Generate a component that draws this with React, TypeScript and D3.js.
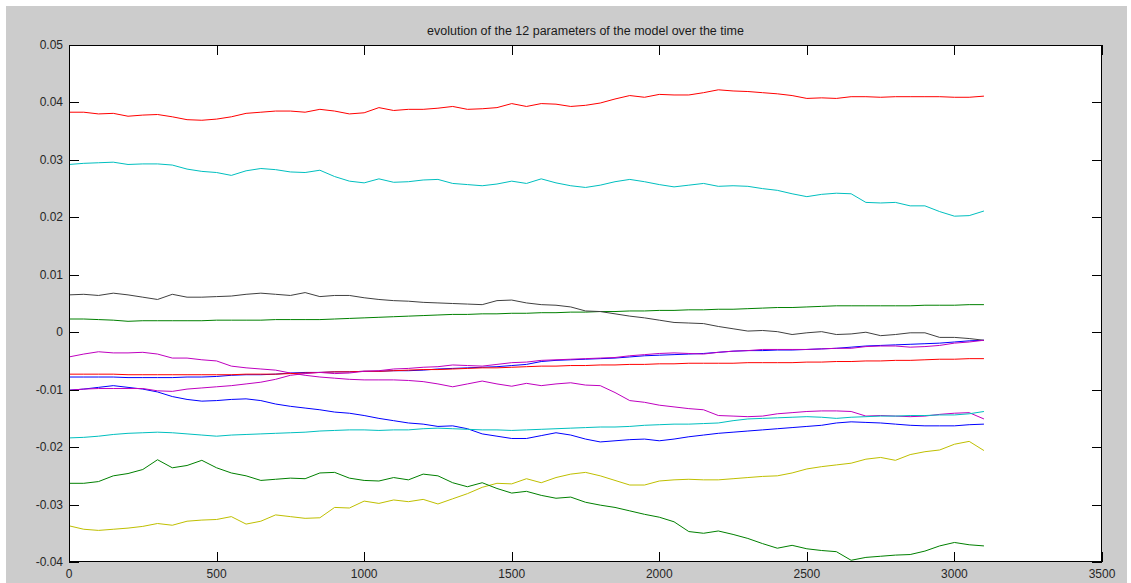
import React from "react";
import * as d3 from "d3";

// Sample times (iterations) at which each parameter was recorded: every 50 steps
const times = d3.range(0, 3101, 50);

// Parameter trajectories, in MATLAB color-order sequence
const p1Blue = [-0.0078, -0.0078, -0.0078, -0.0078, -0.0079, -0.0079, -0.0079, -0.0079, -0.0078, -0.0078, -0.0077, -0.0075, -0.0074, -0.0074, -0.0073, -0.0071,
  -0.0070, -0.0070, -0.0069, -0.0069, -0.0068, -0.0068, -0.0067, -0.0067, -0.0066, -0.0064, -0.0063, -0.0062, -0.0061, -0.0060, -0.0058, -0.0056,
  -0.0051, -0.0049, -0.0048, -0.0047, -0.0046, -0.0045, -0.0043, -0.0041, -0.0040, -0.0039, -0.0038, -0.0037, -0.0035, -0.0033, -0.0032, -0.0032,
  -0.0031, -0.0031, -0.0030, -0.0029, -0.0028, -0.0026, -0.0024, -0.0023, -0.0022, -0.0021, -0.0020, -0.0019, -0.0017, -0.0015, -0.0014];
const p2Green = [0.0023, 0.0023, 0.0022, 0.0021, 0.0019, 0.0020, 0.0020, 0.0020, 0.0020, 0.0020, 0.0021, 0.0021, 0.0021, 0.0021, 0.0022, 0.0022,
  0.0022, 0.0022, 0.0023, 0.0024, 0.0025, 0.0026, 0.0027, 0.0028, 0.0029, 0.0030, 0.0031, 0.0031, 0.0032, 0.0032, 0.0033, 0.0033,
  0.0034, 0.0034, 0.0035, 0.0035, 0.0036, 0.0036, 0.0037, 0.0037, 0.0038, 0.0038, 0.0039, 0.0039, 0.0040, 0.0040, 0.0041, 0.0042,
  0.0043, 0.0043, 0.0044, 0.0045, 0.0046, 0.0046, 0.0046, 0.0046, 0.0046, 0.0046, 0.0047, 0.0047, 0.0047, 0.0048, 0.0048];
const p3Red = [0.0383, 0.0383, 0.0380, 0.0381, 0.0376, 0.0378, 0.0379, 0.0375, 0.0370, 0.0369, 0.0371, 0.0375, 0.0381, 0.0383, 0.0385, 0.0385,
  0.0383, 0.0388, 0.0385, 0.0380, 0.0382, 0.0391, 0.0386, 0.0388, 0.0388, 0.0390, 0.0393, 0.0388, 0.0389, 0.0391, 0.0398, 0.0393,
  0.0398, 0.0397, 0.0393, 0.0395, 0.0399, 0.0406, 0.0412, 0.0409, 0.0414, 0.0413, 0.0413, 0.0417, 0.0422, 0.0420, 0.0419, 0.0417,
  0.0415, 0.0412, 0.0407, 0.0408, 0.0407, 0.0410, 0.0410, 0.0409, 0.0410, 0.0410, 0.0410, 0.0410, 0.0409, 0.0409, 0.0411];
const p4Cyan = [0.0292, 0.0294, 0.0295, 0.0296, 0.0292, 0.0293, 0.0293, 0.0291, 0.0284, 0.0280, 0.0278, 0.0273, 0.0281, 0.0285, 0.0283, 0.0279,
  0.0278, 0.0282, 0.0271, 0.0263, 0.0260, 0.0267, 0.0261, 0.0262, 0.0265, 0.0266, 0.0259, 0.0257, 0.0255, 0.0258, 0.0263, 0.0259,
  0.0267, 0.0260, 0.0255, 0.0252, 0.0256, 0.0262, 0.0266, 0.0262, 0.0257, 0.0253, 0.0256, 0.0259, 0.0254, 0.0255, 0.0254, 0.0250,
  0.0247, 0.0241, 0.0236, 0.0240, 0.0242, 0.0241, 0.0226, 0.0225, 0.0226, 0.0220, 0.0220, 0.0210, 0.0202, 0.0203, 0.0211];
const p5Magenta = [-0.0043, -0.0038, -0.0034, -0.0036, -0.0036, -0.0035, -0.0038, -0.0045, -0.0045, -0.0048, -0.0050, -0.0059, -0.0062, -0.0064, -0.0066, -0.0071,
  -0.0075, -0.0078, -0.0080, -0.0082, -0.0083, -0.0083, -0.0083, -0.0084, -0.0086, -0.0090, -0.0095, -0.0090, -0.0085, -0.0090, -0.0094, -0.0089,
  -0.0093, -0.0090, -0.0088, -0.0092, -0.0093, -0.0105, -0.0119, -0.0122, -0.0127, -0.0130, -0.0133, -0.0135, -0.0145, -0.0146, -0.0147, -0.0146,
  -0.0142, -0.0140, -0.0138, -0.0137, -0.0137, -0.0138, -0.0146, -0.0145, -0.0146, -0.0147, -0.0146, -0.0143, -0.0141, -0.0140, -0.0151];
const p6Yellow = [-0.0337, -0.0343, -0.0345, -0.0343, -0.0341, -0.0338, -0.0333, -0.0336, -0.0329, -0.0327, -0.0326, -0.0321, -0.0334, -0.0329, -0.0318, -0.0321,
  -0.0324, -0.0323, -0.0305, -0.0306, -0.0294, -0.0298, -0.0292, -0.0295, -0.0291, -0.0299, -0.0290, -0.0281, -0.0270, -0.0263, -0.0264, -0.0255,
  -0.0262, -0.0253, -0.0247, -0.0244, -0.0250, -0.0258, -0.0266, -0.0266, -0.0259, -0.0257, -0.0256, -0.0257, -0.0257, -0.0255, -0.0253, -0.0251,
  -0.0250, -0.0245, -0.0238, -0.0234, -0.0231, -0.0228, -0.0221, -0.0218, -0.0223, -0.0213, -0.0208, -0.0205, -0.0195, -0.0190, -0.0206];
const p7Gray = [0.0065, 0.0066, 0.0064, 0.0068, 0.0065, 0.0061, 0.0057, 0.0066, 0.0061, 0.0061, 0.0062, 0.0063, 0.0066, 0.0068, 0.0066, 0.0064,
  0.0069, 0.0062, 0.0064, 0.0064, 0.0060, 0.0057, 0.0055, 0.0054, 0.0052, 0.0051, 0.0050, 0.0049, 0.0048, 0.0055, 0.0056, 0.0051,
  0.0048, 0.0047, 0.0044, 0.0037, 0.0036, 0.0032, 0.0028, 0.0025, 0.0021, 0.0017, 0.0016, 0.0015, 0.0010, 0.0006, 0.0002, 0.0003,
  0.0001, -0.0004, -0.0001, 0.0001, -0.0004, -0.0003, 0.0000, -0.0006, -0.0004, -0.0001, -0.0001, -0.0009, -0.0009, -0.0011, -0.0014];
const p8Blue = [-0.0101, -0.0099, -0.0096, -0.0093, -0.0096, -0.0099, -0.0104, -0.0112, -0.0117, -0.0120, -0.0119, -0.0117, -0.0116, -0.0119, -0.0125, -0.0129,
  -0.0132, -0.0135, -0.0139, -0.0141, -0.0145, -0.0150, -0.0154, -0.0158, -0.0160, -0.0164, -0.0163, -0.0168, -0.0177, -0.0181, -0.0185, -0.0185,
  -0.0180, -0.0175, -0.0179, -0.0186, -0.0191, -0.0189, -0.0187, -0.0186, -0.0189, -0.0186, -0.0182, -0.0179, -0.0176, -0.0174, -0.0172, -0.0170,
  -0.0168, -0.0166, -0.0164, -0.0162, -0.0158, -0.0156, -0.0157, -0.0158, -0.0160, -0.0162, -0.0163, -0.0163, -0.0163, -0.0161, -0.0160];
const p9Green = [-0.0263, -0.0263, -0.0260, -0.0250, -0.0246, -0.0239, -0.0222, -0.0236, -0.0232, -0.0223, -0.0236, -0.0245, -0.0250, -0.0258, -0.0256, -0.0254,
  -0.0255, -0.0245, -0.0244, -0.0254, -0.0258, -0.0259, -0.0253, -0.0257, -0.0247, -0.0250, -0.0262, -0.0269, -0.0262, -0.0272, -0.0280, -0.0277,
  -0.0284, -0.0289, -0.0287, -0.0296, -0.0301, -0.0305, -0.0311, -0.0317, -0.0322, -0.0330, -0.0347, -0.0350, -0.0346, -0.0352, -0.0359, -0.0368,
  -0.0376, -0.0371, -0.0377, -0.0380, -0.0382, -0.0397, -0.0392, -0.0390, -0.0388, -0.0387, -0.0381, -0.0372, -0.0366, -0.0370, -0.0372];
const p10Red = [-0.0073, -0.0073, -0.0073, -0.0073, -0.0074, -0.0074, -0.0074, -0.0074, -0.0074, -0.0074, -0.0074, -0.0074, -0.0073, -0.0073, -0.0073, -0.0072,
  -0.0071, -0.0070, -0.0069, -0.0069, -0.0068, -0.0068, -0.0067, -0.0066, -0.0065, -0.0065, -0.0064, -0.0063, -0.0062, -0.0062, -0.0061, -0.0060,
  -0.0059, -0.0059, -0.0058, -0.0058, -0.0057, -0.0057, -0.0056, -0.0056, -0.0055, -0.0055, -0.0054, -0.0054, -0.0054, -0.0054, -0.0053, -0.0053,
  -0.0053, -0.0053, -0.0052, -0.0052, -0.0051, -0.0051, -0.0050, -0.0050, -0.0049, -0.0049, -0.0048, -0.0047, -0.0047, -0.0046, -0.0046];
const p11Cyan = [-0.0184, -0.0183, -0.0181, -0.0178, -0.0176, -0.0175, -0.0174, -0.0175, -0.0177, -0.0179, -0.0181, -0.0179, -0.0178, -0.0177, -0.0176, -0.0175,
  -0.0174, -0.0172, -0.0171, -0.0170, -0.0170, -0.0171, -0.0170, -0.0170, -0.0168, -0.0167, -0.0168, -0.0169, -0.0170, -0.0170, -0.0171, -0.0170,
  -0.0169, -0.0168, -0.0167, -0.0166, -0.0165, -0.0165, -0.0164, -0.0162, -0.0161, -0.0160, -0.0160, -0.0159, -0.0158, -0.0154, -0.0151, -0.0150,
  -0.0149, -0.0148, -0.0147, -0.0148, -0.0150, -0.0148, -0.0147, -0.0146, -0.0146, -0.0145, -0.0145, -0.0144, -0.0144, -0.0142, -0.0138];
const p12Magenta = [-0.0101, -0.0099, -0.0098, -0.0098, -0.0098, -0.0098, -0.0102, -0.0103, -0.0099, -0.0097, -0.0095, -0.0093, -0.0090, -0.0087, -0.0082, -0.0075,
  -0.0072, -0.0070, -0.0072, -0.0071, -0.0068, -0.0067, -0.0064, -0.0063, -0.0061, -0.0060, -0.0057, -0.0058, -0.0059, -0.0056, -0.0053, -0.0052,
  -0.0049, -0.0048, -0.0047, -0.0046, -0.0045, -0.0044, -0.0041, -0.0039, -0.0037, -0.0036, -0.0037, -0.0038, -0.0035, -0.0033, -0.0032, -0.0030,
  -0.0030, -0.0030, -0.0030, -0.0029, -0.0028, -0.0028, -0.0025, -0.0024, -0.0024, -0.0026, -0.0025, -0.0023, -0.0019, -0.0017, -0.0014];

const seriesList = [p1Blue, p2Green, p3Red, p4Cyan, p5Magenta, p6Yellow, p7Gray, p8Blue, p9Green, p10Red, p11Cyan, p12Magenta];
const colorOrder = ["#0000ff", "#008000", "#ff0000", "#00bfbf", "#bf00bf", "#bfbf00", "#404040"];

const xTicks = [0, 500, 1000, 1500, 2000, 2500, 3000, 3500];
const yTicks = [-0.04, -0.03, -0.02, -0.01, 0, 0.01, 0.02, 0.03, 0.04, 0.05];
const yTickLabels = ["-0.04", "-0.03", "-0.02", "-0.01", "0", "0.01", "0.02", "0.03", "0.04", "0.05"];

const title = "evolution of the 12 parameters of the model over the time";

const W = 1131;
const H = 583;
const plot = { left: 69, top: 45, right: 1102, bottom: 562 };

export default function App() {
  const x = d3.scaleLinear().domain([0, 3500]).range([plot.left, plot.right]);
  const y = d3.scaleLinear().domain([-0.04, 0.05]).range([plot.bottom, plot.top]);
  const line = d3
    .line<number>()
    .x((_, i) => x(times[i]))
    .y((d) => y(d))
    .curve(d3.curveLinear);

  const font = "'Liberation Sans', Arial, Helvetica, sans-serif";
  const tickLen = 10;

  return (
    <svg
      width={W}
      height={H}
      style={{ position: "absolute", left: 0, top: 0, background: "#ffffff" }}
    >
      <defs>
        <clipPath id="plotClip">
          <rect
            x={plot.left}
            y={plot.top}
            width={plot.right - plot.left}
            height={plot.bottom - plot.top}
          />
        </clipPath>
      </defs>
      <rect x={6} y={6} width={1121} height={H - 6} fill="#cccccc" />
      <rect
        x={plot.left}
        y={plot.top}
        width={plot.right - plot.left}
        height={plot.bottom - plot.top}
        fill="#ffffff"
      />
      <text
        x={(plot.left + plot.right) / 2}
        y={35}
        textAnchor="middle"
        fontFamily={font}
        fontSize={12.5}
        fill="#1a1a1a"
      >
        {title}
      </text>

      <g clipPath="url(#plotClip)">
        {seriesList.map((s, i) => (
          <path
            key={i}
            d={line(s.slice(0, times.length)) || ""}
            fill="none"
            stroke={colorOrder[i % colorOrder.length]}
            strokeWidth={1}
            strokeLinejoin="round"
          />
        ))}
      </g>

      {/* axis box */}
      <rect
        x={plot.left + 0.5}
        y={plot.top + 0.5}
        width={plot.right - plot.left - 1}
        height={plot.bottom - plot.top - 1}
        fill="none"
        stroke="#000000"
        strokeWidth={1}
      />

      {/* x ticks on bottom and top, labels below */}
      {xTicks.map((t) => {
        const px = Math.round(x(t)) + 0.5;
        return (
          <g key={"x" + t}>
            <line x1={px} x2={px} y1={plot.bottom} y2={plot.bottom - tickLen} stroke="#000" />
            <line x1={px} x2={px} y1={plot.top} y2={plot.top + tickLen} stroke="#000" />
            <text
              x={x(t)}
              y={578}
              textAnchor="middle"
              fontFamily={font}
              fontSize={12}
              fill="#262626"
            >
              {String(t)}
            </text>
          </g>
        );
      })}

      {/* y ticks on left and right, labels on left */}
      {yTicks.map((v, i) => {
        const py = Math.round(y(v)) + 0.5;
        return (
          <g key={"y" + i}>
            <line x1={plot.left} x2={plot.left + tickLen} y1={py} y2={py} stroke="#000" />
            <line x1={plot.right} x2={plot.right - tickLen} y1={py} y2={py} stroke="#000" />
            <text
              x={63}
              y={y(v) + 4}
              textAnchor="end"
              fontFamily={font}
              fontSize={12}
              fill="#262626"
            >
              {yTickLabels[i]}
            </text>
          </g>
        );
      })}
    </svg>
  );
}
